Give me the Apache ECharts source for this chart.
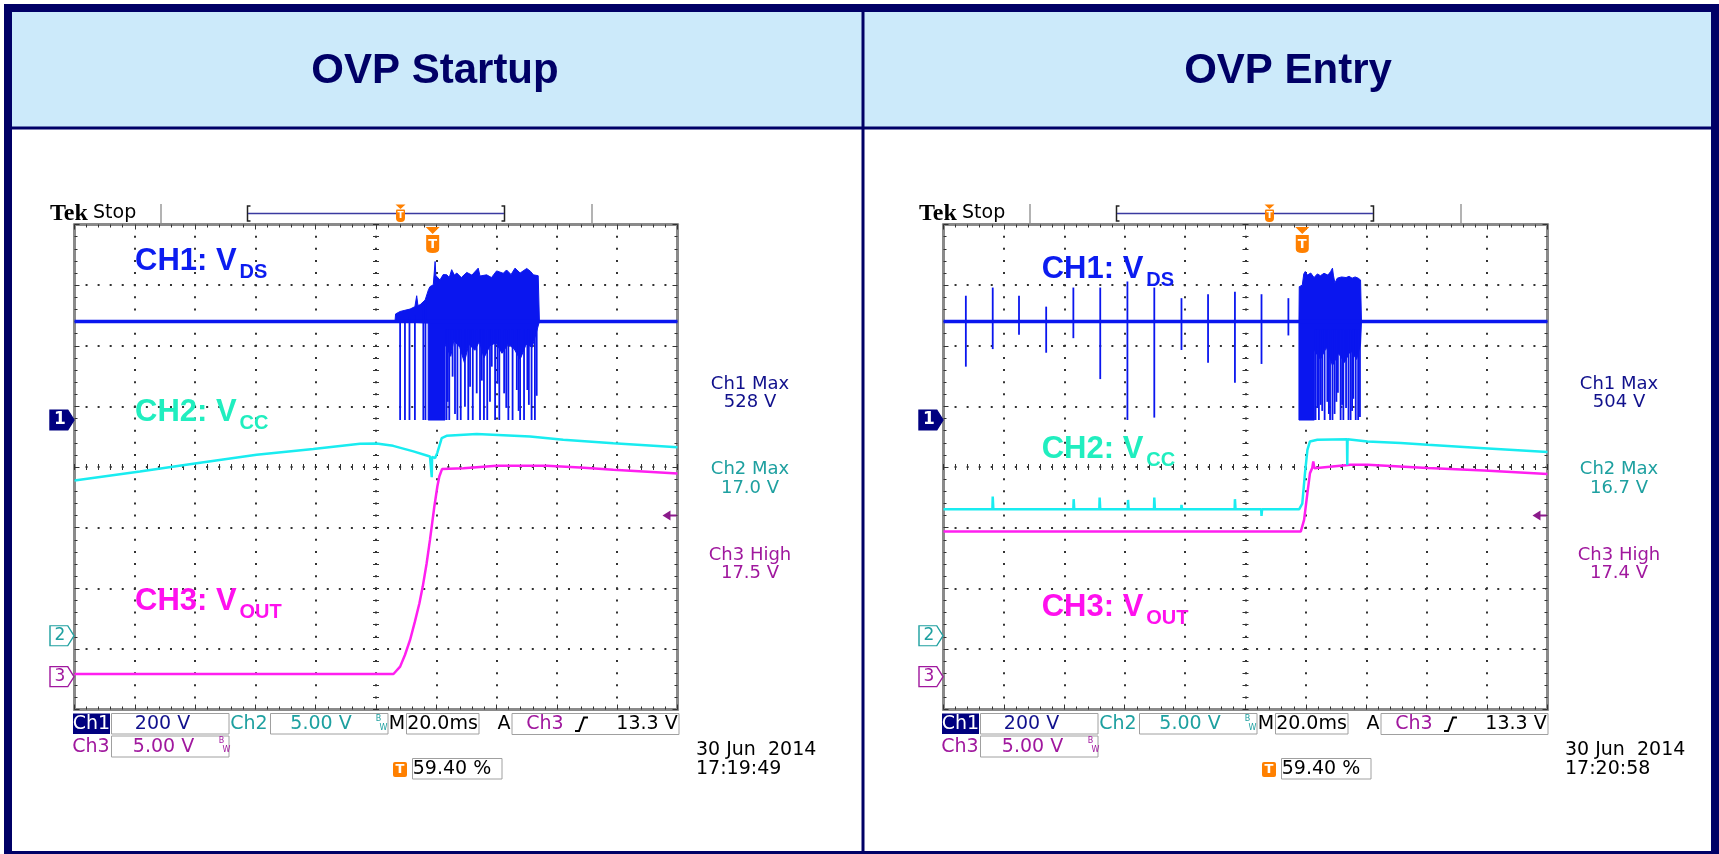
<!DOCTYPE html>
<html><head><meta charset="utf-8">
<script src="https://cdn.jsdelivr.net/npm/echarts@6.0.0/dist/echarts.min.js"></script>
<style>html,body{margin:0;padding:0;background:#fff;}#c{width:1719px;height:854px;}</style>
</head><body><div id="c"></div><script>
// ---------------- scope settings ----------------
const panelTitles = ['OVP Startup', 'OVP Entry'];
const timeDivMs = 20.0;
const triggerPct = 59.40;
const triggerLevel = 13.3;
const ch1VoltsPerDiv = 200, ch2VoltsPerDiv = 5, ch3VoltsPerDiv = 5;
const groundDiv = { ch1: 0.775, ch2: -2.783, ch3: -3.459 };   // channel ground markers, in divisions from centre
const readoutNames = ['Ch1 Max', 'Ch2 Max', 'Ch3 High'];
const startupReadouts = ['528 V', '17.0 V', '17.5 V'];
const entryReadouts = ['504 V', '16.7 V', '17.4 V'];
const captureDates = ['30 Jun  2014', '30 Jun  2014'];
const captureTimes = ['17:19:49', '17:20:58'];

// ---------------- OVP Startup traces (t in ms from trigger, volts) ----------------
const startupCh1Level = [[-118.8, 325], [81.2, 325]];
const startupCh1BurstTop = [[-12.5,325],[-12.3,350],[-10.8,358],[-9.2,362],[-7.5,366],[-5.9,374],[-5.3,410],[-4.9,378],[-4.2,380],[-2.5,396],[-1.4,430],[-0.9,440],[0.2,446],[0.8,523],[1.1,470],[1.3,474],[2.4,462],[3.5,480],[4.7,479],[5.5,470],[6.3,496],[7.2,478],[8.0,485],[9.5,470],[11.3,487],[13.0,478],[15.1,501],[15.7,475],[17.9,479],[19.5,470],[21.2,492],[23.4,484],[24.5,495],[26.0,480],[27.3,501],[29.0,485],[31.2,500],[32.5,490],[33.4,479],[35.0,476],[35.4,325]];
const startupCh1BurstLow = [[-12.5,325],[-1.5,320],[-1.5,0],[4.1,0],[4.1,250],[6.0,210],[7.0,262],[9.0,240],[10.5,190],[12.0,250],[14.0,230],[15.5,260],[17.0,205],[19.0,245],[21.0,255],[23.0,220],[25.0,250],[27.0,235],[29.0,200],[31.0,250],[33.0,240],[35.4,325]];
const startupCh1Spikes = [[-10.8,0,330],[-9.2,0,330],[-7.7,0,340],[-5.9,0,345],[-3.1,0,380],[-2.4,0,390],[4.6,0,300],[5.0,60,300],[5.5,0,300],[6.6,143,300],[7.4,20,300],[8.2,0,300],[9.3,0,300],[10.7,44,300],[11.8,0,300],[12.4,110,300],[13.3,0,300],[14.6,88,300],[15.7,0,300],[16.3,130,300],[17.0,0,300],[18.1,0,300],[19.0,60,300],[19.6,176,300],[20.7,0,300],[21.5,120,300],[22.1,0,300],[23.7,88,300],[24.4,40,300],[25.1,0,300],[26.5,0,300],[27.9,99,300],[28.5,30,300],[29.0,0,300],[30.3,0,300],[31.4,99,300],[31.9,50,300],[32.8,0,300],[33.9,0,300],[34.5,80,300]];
const startupCh2 = [[-118.8,12.80],[-97.1,13.54],[-78.3,14.23],[-58.4,14.92],[-39.6,15.39],[-24.1,15.83],[-18.6,15.85],[-13.1,15.66],[-6.4,15.20],[-0.9,14.78],[-0.3,14.75],[-0.3,13.08],[-0.2,14.75],[0.8,14.65],[1.5,15.06],[3.0,16.30],[4.6,16.49],[14.6,16.63],[32.3,16.44],[43.3,16.16],[59.9,15.88],[81.2,15.55]];
const startupCh3 = [[-118.8,0.22],[-13.0,0.22],[-10.8,0.83],[-9.2,1.79],[-7.5,3.03],[-5.9,4.54],[-4.4,6.06],[-3.3,7.43],[-2.0,9.36],[-0.9,11.28],[0.55,14.04],[1.55,15.69],[2.2,16.51],[3.1,17.12],[10.2,17.20],[21.2,17.39],[37.8,17.39],[48.9,17.26],[59.9,17.06],[81.2,16.75]];

// ---------------- OVP Entry traces ----------------
const entryCh1Level = [[-118.8, 325], [81.2, 325]];
const entryCh1BurstTop = [[-1.1,325],[-1.0,440],[0.0,445],[0.5,482],[1.0,490],[1.7,478],[2.8,485],[3.9,470],[5.0,482],[6.0,476],[7.2,484],[8.5,478],[9.4,490],[10.0,501],[10.3,478],[10.8,452],[11.6,468],[13.0,472],[14.5,470],[15.5,474],[16.5,468],[17.5,472],[18.5,468],[19.3,462],[19.6,325]];
const entryCh1BurstLow = [[-1.1,325],[-1.1,0],[4.0,0],[4.0,230],[6.0,200],[8.0,240],[10.0,180],[12.0,220],[14.0,190],[16.0,230],[18.0,200],[19.3,250],[19.6,325]];
const entryCh1Spikes = [[-111.4,176,410],[-102.5,234,437],[-93.8,281,410],[-84.8,222,374],[-75.8,270,437],[-66.9,135,437],[-57.9,0,457],[-49.0,8,437],[-40.0,231,402],[-31.2,189,415],[-22.3,123,423],[-13.5,185,415],[-4.6,279,402],[4.4,0,300],[5.0,40,300],[5.5,0,300],[6.1,50,300],[6.6,30,300],[7.4,0,300],[8.3,60,300],[8.8,20,300],[9.2,0,300],[10.0,0,300],[10.7,20,300],[11.3,60,300],[11.8,90,300],[12.7,0,300],[13.2,50,300],[13.6,0,300],[14.5,40,300],[15.3,0,300],[16.0,0,300],[16.5,30,300],[16.9,70,300],[17.7,0,300],[18.5,0,300],[19.1,10,300]];
const entryCh2 = [[-118.8,10.44],[-102.6,10.44],[-102.5,11.48],[-102.3,10.44],[-75.8,10.44],[-75.7,11.26],[-75.5,10.44],[-67.2,10.44],[-67.1,11.4],[-66.9,10.44],[-57.8,10.44],[-57.7,11.2],[-57.5,10.44],[-49.1,10.44],[-49.0,11.4],[-48.8,10.44],[-40.1,10.44],[-40.0,10.79],[-39.8,10.44],[-22.4,10.44],[-22.3,11.26],[-22.1,10.44],[-13.6,10.44],[-13.5,9.88],[-13.3,10.44],[-1.0,10.44],[0.0,10.9],[0.9,13.41],[1.7,15.33],[2.55,16.02],[5.0,16.16],[14.8,16.2],[14.9,14.09],[15.0,16.2],[21.6,16.02],[32.6,15.89],[41.5,15.75],[60.2,15.47],[81.2,15.15]];
const entryCh3 = [[-118.8,11.97],[-0.5,11.97],[0.6,12.94],[1.7,15.14],[2.55,16.79],[3.3,17.21],[3.65,17.75],[4.0,17.2],[16.0,17.48],[21.6,17.48],[41.5,17.21],[60.2,17.01],[81.2,16.72]];

// ---------------- build ----------------
const BLUE = '#0a16ef', CYAN = '#19ecf0', MAG = '#ff1ff0', NAVY = '#000066';
const TEAL = '#1ea0a0', PURP = '#a0189e', RONAVY = '#10108c', ORANGE = '#ff8000';
const LIB = '"Liberation Sans", Arial, sans-serif';
const DJV = '"DejaVu Sans", sans-serif';
const tMin = -triggerPct / 100 * 10 * timeDivMs;
const tMax = tMin + 10 * timeDivMs;
const volts = { ch1: ch1VoltsPerDiv, ch2: ch2VoltsPerDiv, ch3: ch3VoltsPerDiv };
const grids = [
  { left: 74.5, top: 224.5, width: 603, height: 485 },
  { left: 943.5, top: 224.5, width: 604, height: 485 }
];
const panels = [
  { lvl: startupCh1Level, top: startupCh1BurstTop, low: startupCh1BurstLow, spk: startupCh1Spikes, c2: startupCh2, c3: startupCh3, ro: startupReadouts },
  { lvl: entryCh1Level, top: entryCh1BurstTop, low: entryCh1BurstLow, spk: entryCh1Spikes, c2: entryCh2, c3: entryCh3, ro: entryReadouts }
];

const TICK = { color: '#333', width: 1 };
function grat(dim, g, pos, extra) {
  return Object.assign({
    type: 'value', gridIndex: g, position: pos,
    min: dim === 'x' ? 0 : -4, max: dim === 'x' ? 10 : 4, interval: 1,
    axisLabel: { show: false }, splitLine: { show: false },
    axisLine: { show: true, onZero: false, lineStyle: { color: '#8a8a8a', width: 3 } },
    axisTick: { show: true, inside: true, length: 5, lineStyle: TICK },
    minorTick: { show: true, splitNumber: 5, length: 3, lineStyle: TICK },
    minorSplitLine: { show: false }, silent: true
  }, extra || {});
}
const xAxes = [], yAxes = [];
grids.forEach((gr, g) => {
  xAxes.push(grat('x', g, 'bottom', { splitLine: { show: true, lineStyle: { color: '#333', width: 2, type: [2, 10.125], dashOffset: 1 } } }));
  xAxes.push(grat('x', g, 'top'));
  xAxes.push(grat('x', g, 'bottom', { offset: -gr.height / 2 + 3, axisLine: { show: false, onZero: false },
    axisTick: { show: true, inside: true, length: 6, lineStyle: TICK }, minorTick: { show: true, splitNumber: 5, length: 6, lineStyle: TICK } }));
  xAxes.push({ type: 'value', gridIndex: g, show: false, min: tMin, max: tMax });
  yAxes.push(grat('y', g, 'left', { splitLine: { show: true, lineStyle: { color: '#333', width: 2, type: [2, 10.06], dashOffset: 1 } } }));
  yAxes.push(grat('y', g, 'right'));
  yAxes.push(grat('y', g, 'left', { offset: -gr.width / 2 + 3, axisLine: { show: false, onZero: false },
    axisTick: { show: true, inside: true, length: 6, lineStyle: TICK }, minorTick: { show: true, splitNumber: 5, length: 6, lineStyle: TICK } }));
  ['ch1', 'ch2', 'ch3'].forEach(ch => {
    yAxes.push({ type: 'value', gridIndex: g, show: false, min: (-4 - groundDiv[ch]) * volts[ch], max: (4 - groundDiv[ch]) * volts[ch] });
  });
});

const series = [];
panels.forEach((p, g) => {
  const xi = 4 * g + 3, yb = 6 * g;
  const line = (yIdx, data, color, w, z) => ({ type: 'line', xAxisIndex: xi, yAxisIndex: yb + yIdx, data, showSymbol: false, symbol: 'none',
    lineStyle: { color, width: w }, itemStyle: { color }, silent: true, z, animation: false });
  series.push(line(5, p.c3, MAG, 2.5, 3));
  series.push(line(4, p.c2, CYAN, 2.5, 3));
  series.push(line(3, p.lvl, BLUE, 3.5, 4));
  const top = p.top, low = p.low;
  series.push({ type: 'custom', xAxisIndex: xi, yAxisIndex: yb + 3, data: [top[0]], silent: true, z: 4, animation: false,
    renderItem: (params, api) => ({ type: 'polygon',
      shape: { points: top.map(q => api.coord(q)).concat(low.slice().reverse().map(q => api.coord(q))) },
      style: { fill: BLUE, stroke: BLUE, lineWidth: 1 } }) });
  series.push({ type: 'custom', xAxisIndex: xi, yAxisIndex: yb + 3, data: p.spk, encode: { x: 0, y: [1, 2] }, silent: true, z: 4, animation: false,
    renderItem: (params, api) => { const a = api.coord([api.value(0), api.value(1)]), b = api.coord([api.value(0), api.value(2)]);
      return { type: 'line', shape: { x1: a[0], y1: a[1], x2: b[0], y2: b[1] }, style: { stroke: BLUE, lineWidth: 1.8 } }; } });
  // channel ground markers
  const mk = (yIdx, txt, fill, border, lab) => ({ type: 'scatter', xAxisIndex: xi, yAxisIndex: yb + yIdx, data: [[tMin, 0]], clip: false, silent: true, z: 6, animation: false,
    symbol: 'path://M0,0L17,0L23,10L17,20L0,20Z', symbolSize: [24, 20], symbolOffset: [-12.5, 0], symbolKeepAspect: false,
    itemStyle: { color: fill, borderColor: border, borderWidth: 1.3, opacity: 1 },
    label: { show: true, formatter: txt, position: 'inside', offset: [-2, 0], color: lab, fontSize: 17, fontFamily: DJV, fontWeight: yIdx === 3 ? 'bold' : 'normal' } });
  series.push(mk(3, '1', '#000080', '#000080', '#fff'));
  series.push(mk(4, '2', '#fff', TEAL, TEAL));
  series.push(mk(5, '3', '#fff', PURP, PURP));
  // trigger position marker
  series.push({ type: 'scatter', xAxisIndex: xi, yAxisIndex: yb, data: [[0, 4]], clip: false, silent: true, z: 6, animation: false,
    symbol: 'path://M0,0L14,0L7,7Z M0.5,8L13.5,8L13.5,22Q13.5,26 7,26Q0.5,26 0.5,22Z', symbolSize: [14, 26], symbolOffset: [0, 15.5], symbolKeepAspect: false,
    itemStyle: { color: ORANGE, opacity: 1 }, label: { show: true, formatter: 'T', position: 'inside', offset: [0, 4.5], color: '#fff', fontSize: 13, fontWeight: 'bold', fontFamily: DJV } });
  // trigger level marker
  series.push({ type: 'scatter', xAxisIndex: xi, yAxisIndex: yb + 5, data: [[tMax, triggerLevel]], clip: false, silent: true, z: 6, animation: false,
    symbol: 'path://M0,5L8,0L8,4L14,4L14,6L8,6L8,10Z', symbolSize: [14, 10], symbolOffset: [-8, 0], symbolKeepAspect: false,
    itemStyle: { color: '#8b1a8b', opacity: 1 } });
});

// ---------------- decorations & text ----------------
const G = [];
function txt(x, y, text, size, color, align, family, weight, z) {
  G.push({ type: 'text', x, y, z: z || 50, silent: true, style: { text, fontSize: size, fontFamily: family || DJV, fontWeight: weight || 'normal', fill: color,
    align: align || 'center', verticalAlign: 'middle', textAlign: align || 'center', textVerticalAlign: 'middle' } });
}
function rect(x, y, w, h, fill, stroke, lw, r, z) {
  G.push({ type: 'rect', z: z || 40, silent: true, shape: { x, y, width: w, height: h, r: r || 0 }, style: { fill: fill || 'none', stroke: stroke || 'none', lineWidth: lw || 0 } });
}
function seg(x1, y1, x2, y2, stroke, lw) {
  G.push({ type: 'line', z: 40, silent: true, shape: { x1, y1, x2, y2 }, style: { stroke, lineWidth: lw } });
}
function pline(points, stroke, lw) {
  G.push({ type: 'polyline', z: 40, silent: true, shape: { points }, style: { stroke, lineWidth: lw, fill: 'none' } });
}
function pgon(points, fill) {
  G.push({ type: 'polygon', z: 40, silent: true, shape: { points }, style: { fill } });
}

rect(12, 12, 1699, 115, '#cceafa', null, 0, 0, 1);
rect(12, 126.5, 1699, 3, NAVY, null, 0, 0, 2);
rect(861.5, 12, 3, 840, NAVY, null, 0, 0, 2);
G.push({ type: 'rect', z: 3, silent: true, shape: { x: 8, y: 8, width: 1707, height: 847 }, style: { fill: 'none', stroke: NAVY, lineWidth: 8 } });
txt(435, 71.5, panelTitles[0], 42, NAVY, 'center', LIB, 'bold');
txt(1288, 71.5, panelTitles[1], 42, NAVY, 'center', LIB, 'bold');

const labelPos = [
  { x: 135, y: [261.5, 412.5, 601.5] },
  { x: 1041.7, y: [269, 449.5, 607.5] }
];
const chLabelMain = ['CH1: V', 'CH2: V', 'CH3: V'];
const chLabelSub = ['DS', 'CC', 'OUT'];
const chLabelColor = ['#0c1cf0', '#20eebf', '#ff10ee'];

panels.forEach((p, g) => {
  const dx = g * 869;
  // Tek header
  txt(50 + dx, 214, 'Tek', 24, '#000', 'left', '"Liberation Serif", serif', 'bold');
  txt(93 + dx, 213, 'Stop', 19, '#000', 'left');
  seg(161 + dx, 204, 161 + dx, 223, '#9a9a9a', 1.5);
  seg(592 + dx, 204, 592 + dx, 223, '#9a9a9a', 1.5);
  pline([[250.5 + dx, 206], [247.5 + dx, 206], [247.5 + dx, 221], [250.5 + dx, 221]], '#222', 1.5);
  pline([[501.5 + dx, 206], [504.5 + dx, 206], [504.5 + dx, 221], [501.5 + dx, 221]], '#222', 1.5);
  seg(248 + dx, 213.5, 504 + dx, 213.5, '#3a3aa0', 1.5);
  pgon([[395.5 + dx, 204.5], [405.5 + dx, 204.5], [400.5 + dx, 209]], ORANGE);
  rect(396 + dx, 209.5, 9, 12.5, ORANGE, null, 0, [1, 1, 4, 4]);
  txt(400.5 + dx, 215.5, 'T', 9, '#fff', 'center', DJV, 'bold', 55);
  // right readouts
  const roC = [RONAVY, TEAL, PURP], roY = [[384.5, 402.5], [469, 488], [555, 573.5]];
  for (let i = 0; i < 3; i++) {
    txt(750 + dx, roY[i][0], readoutNames[i], 18, roC[i]);
    txt(750 + dx, roY[i][1], p.ro[i], 18, roC[i]);
  }
  // channel labels
  const lp = labelPos[g];
  for (let i = 0; i < 3; i++) {
    txt(lp.x, lp.y[i], chLabelMain[i], 31, chLabelColor[i], 'left', LIB, 'bold');
    txt(lp.x + 104.5, lp.y[i] + 11, chLabelSub[i], 20, chLabelColor[i], 'left', LIB, 'bold');
  }
  // bottom status
  const BOX = '#a0a0a0';
  rect(73 + dx, 713.5, 37, 20.5, '#00007f');
  txt(91.5 + dx, 724.5, 'Ch1', 19, '#fff');
  rect(111.5 + dx, 713.5, 117.5, 20.5, '#fff', BOX, 1);
  txt(162.5 + dx, 724.5, ch1VoltsPerDiv + ' V', 19, RONAVY);
  txt(249 + dx, 724.5, 'Ch2', 19, TEAL);
  rect(270.5 + dx, 713.5, 117.5, 20.5, '#fff', BOX, 1);
  txt(321 + dx, 724.5, ch2VoltsPerDiv.toFixed(2) + ' V', 19, TEAL);
  txt(378.5 + dx, 719, 'B', 8, TEAL); txt(383.5 + dx, 727.5, 'W', 8, TEAL);
  txt(397 + dx, 724.5, 'M', 19, '#000');
  rect(406.5 + dx, 713.5, 72.5, 20.5, '#fff', BOX, 1);
  txt(442.5 + dx, 724.5, timeDivMs.toFixed(1) + 'ms', 19, '#000');
  txt(504 + dx, 724.5, 'A', 19, '#000');
  rect(512 + dx, 713.5, 167, 21, '#fff', BOX, 1);
  txt(545 + dx, 724.5, 'Ch3', 19, PURP);
  pline([[575 + dx, 731], [579 + dx, 731], [584 + dx, 717.5], [588 + dx, 717.5]], '#000', 2);
  txt(647 + dx, 724.5, triggerLevel + ' V', 19, '#000');
  txt(91 + dx, 747, 'Ch3', 19, PURP);
  rect(111.5 + dx, 736, 117.5, 21, '#fff', BOX, 1);
  txt(163.5 + dx, 747, ch3VoltsPerDiv.toFixed(2) + ' V', 19, PURP);
  txt(221.5 + dx, 741, 'B', 8, PURP); txt(226.5 + dx, 749.5, 'W', 8, PURP);
  rect(393 + dx, 762, 14, 15, ORANGE, null, 0, 2);
  txt(400 + dx, 769.5, 'T', 13, '#fff', 'center', DJV, 'bold', 55);
  rect(412.5 + dx, 758.5, 89.5, 20.5, '#fff', BOX, 1);
  txt(452 + dx, 769, triggerPct.toFixed(2) + ' %', 19, '#000');
  txt(696 + dx, 750.5, captureDates[g], 19, '#000', 'left');
  txt(696 + dx, 769, captureTimes[g], 19, '#000', 'left');
});

const chart = echarts.init(document.getElementById('c'), null, { renderer: 'canvas', width: 1719, height: 854 });
chart.setOption({
  animation: false,
  backgroundColor: '#ffffff',
  grid: grids.map(g => Object.assign({ containLabel: false }, g)),
  xAxis: xAxes,
  yAxis: yAxes,
  series,
  graphic: { elements: G }
});
</script></body></html>
